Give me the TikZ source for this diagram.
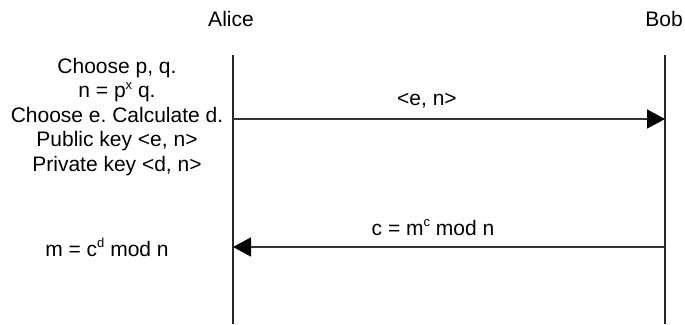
\documentclass[tikz,border=0pt]{standalone}
\usepackage{fontspec}
\setmainfont{Liberation Sans}
\frenchspacing
\usetikzlibrary{arrows.meta,positioning}
\newcommand{\supsmall}[1]{\raisebox{0.42em}{\fontsize{13}{13}\selectfont #1}}
\tikzset{
    party/.style={
        font=\fontsize{21}{24}\selectfont,
        inner sep=0pt
    },
    lifeline/.style={
        draw=black!85,
        line width=1.8pt
    },
    message/.style={
        -{Triangle[length=18pt,width=19pt,color=black]},
        draw=black!80,
        line width=1.6pt
    },
    msglabel/.style={
        font=\fontsize{21}{24}\selectfont,
        inner sep=0pt
    },
    steps/.style={
        font=\fontsize{21}{24.5}\selectfont,
        align=center,
        inner sep=0pt
    }
}

\begin{document}
\begin{tikzpicture}[x=1pt,y=-1pt]
\useasboundingbox (0,0) rectangle (685,324);

% Parties
\node[party] (alice) at (231,19) {Alice};
\node[party] (bob) at (664,19) {Bob};

% Lifelines
\coordinate (alicetop) at (233,55);
\coordinate (alicebot) at (233,324);
\coordinate (bobtop) at (665,55);
\coordinate (bobbot) at (665,324);
\draw[lifeline] (alicetop) -- (alicebot);
\draw[lifeline] (bobtop) -- (bobbot);

% Alice's key generation
\node[steps] (keygen) at (117,117) {Choose p, q.\\n = p\supsmall{x} q.\\Choose e. Calculate d.\\Public key <e, n>\\Private key <d, n>};

% Public key sent to Bob
\coordinate (pubsend) at (233,119);
\coordinate (pubrecv) at (665,119);
\draw[message] (pubsend) -- (pubrecv);
\node[msglabel] (publabel) at (427,101) {<e, n>};

% Ciphertext back to Alice
\coordinate (ctsend) at (665,247);
\coordinate (ctrecv) at (233,247);
\draw[message] (ctsend) -- (ctrecv);
\node[msglabel] (ctlabel) at (433,228) {c = m\supsmall{c} mod n};

% Decryption
\node[msglabel] (decrypt) at (107,247) {m = c\supsmall{d} mod n};
\end{tikzpicture}
\end{document}
